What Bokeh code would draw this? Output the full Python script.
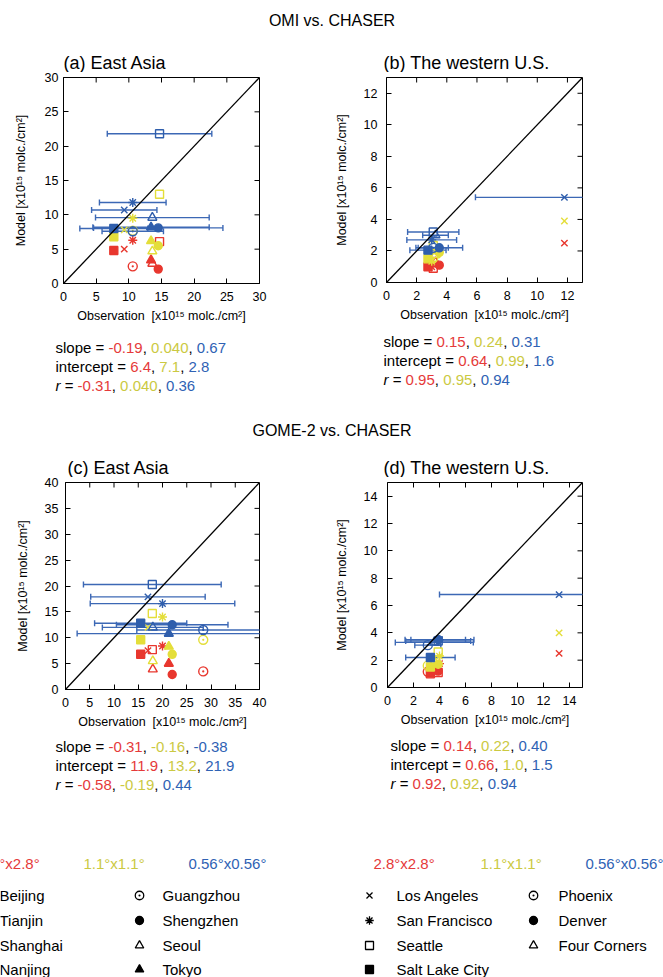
import numpy as np
from bokeh.plotting import figure
from bokeh.models import Range1d, FixedTicker, Slope
from bokeh.layouts import column, row
from bokeh.core.properties import value
from bokeh.embed import file_html
from bokeh.resources import INLINE

# ---------------- data ----------------
ea_cities = ["Beijing", "Tianjin", "Shanghai", "Nanjing",
             "Guangzhou", "Shengzhen", "Seoul", "Tokyo"]
us_cities = ["Los Angeles", "San Francisco", "Seattle", "Salt Lake City",
             "Phoenix", "Denver", "Four Corners"]
resolutions = ["2.8°x2.8°", "1.1°x1.1°", "0.56°x0.56°"]

# (a) OMI vs CHASER, East Asia
a_obs = [9.3, 10.6, 14.7, 7.7, 10.6, 14.5, 13.6, 13.4]
a_sd = [5.0, 5.1, 8.0, 5.2, 4.7, 9.9, 8.7, 8.9]
a_red = [5.0, 6.3, 6.1, 4.8, 2.5, 2.1, 2.9, 3.4]
a_yel = [7.8, 9.5, 13.0, 6.8, 7.7, 5.5, 4.7, 6.2]
a_blu = [10.7, 11.8, 21.8, 8.0, 7.6, 8.1, 9.6, 8.2]
a_slope = ["-0.19", "0.040", "0.67"]
a_intercept = ["6.4", "7.1", "2.8"]
a_r = ["-0.31", "0.040", "0.36"]

# (b) OMI vs CHASER, western U.S.
b_obs = [11.8, 3.0, 3.1, 2.75, 3.1, 3.5, 3.25]
b_sd = [5.9, 1.65, 1.7, 1.2, 1.0, 1.55, 0.85]
b_red = [2.5, 1.0, 0.9, 1.0, 1.3, 1.1, 1.3]
b_yel = [3.9, 1.35, 2.35, 1.5, 1.55, 1.9, 1.75]
b_blu = [5.4, 2.7, 3.2, 2.05, 2.2, 2.2, 3.0]
b_slope = ["0.15", "0.24", "0.31"]
b_intercept = ["0.64", "0.99", "1.6"]
b_r = ["0.95", "0.95", "0.94"]

# (c) GOME-2 vs CHASER, East Asia
c_obs = [17.0, 20.0, 17.9, 15.5, 28.4, 22.0, 18.0, 21.3]
c_sd = [11.8, 14.9, 14.2, 9.5, 13.7, 11.5, 10.4, 18.9]
c_red = [7.5, 8.4, 7.7, 6.8, 3.5, 2.9, 3.9, 5.0]
c_yel = [12.0, 14.0, 14.7, 9.6, 9.6, 6.8, 5.5, 8.3]
c_blu = [17.9, 16.6, 20.3, 12.8, 11.5, 12.5, 12.0, 10.8]
c_slope = ["-0.31", "-0.16", "-0.38"]
c_intercept = ["11.9", "13.2", "21.9"]
c_r = ["-0.58", "-0.19", "0.44"]

# (d) GOME-2 vs CHASER, western U.S.
d_obs = [13.2, 4.0, 3.9, 3.3, 3.1, 3.9, 3.6]
d_sd = [9.2, 2.65, 2.5, 1.9, 1.0, 2.1, 3.0]
d_red = [2.5, 1.75, 1.1, 1.0, 1.15, 1.2, 1.2]
d_yel = [4.0, 2.3, 2.6, 1.5, 1.6, 1.7, 1.9]
d_blu = [6.8, 3.5, 3.4, 2.2, 3.1, 3.5, 3.3]
d_slope = ["0.14", "0.22", "0.40"]
d_intercept = ["0.66", "1.0", "1.5"]
d_r = ["0.92", "0.92", "0.94"]

# ---------------- styles ----------------
FONT = "Liberation Sans"
MK_COL = ["#E8372E", "#E4DE3A", "#2F5EAC"]
TX_COL = ["#E53A3A", "#CBC942", "#2F62B4"]
ERR_COL = "#3C68B5"
ea_style = [("x", False), ("asterisk", False), ("square", False), ("square", True),
            ("circle_dot", False), ("circle", True), ("triangle", False), ("triangle", True)]
us_style = ea_style[:7]

AW = {' ': 278, ',': 278, '-': 333, '.': 278, '/': 278, '=': 584, '[': 278, ']': 278,
      '°': 400, 'r': 333, 's': 500, 'l': 222, 'o': 556, 'p': 556, 'e': 556, 'i': 222,
      'n': 556, 't': 278, 'c': 500, 'x': 500}


def tw(s, size):
    return sum(AW.get(ch, 556) for ch in s) * size / 1000.0


def strip(h):
    t = figure(width=663, height=h, x_range=Range1d(0, 663), y_range=Range1d(h, 0),
               x_axis_type=None, y_axis_type=None, min_border=0,
               outline_line_color=None, output_backend="svg", toolbar_location=None)
    return t


def put(t, x, y, text, color="black", size=15, italic=False, align="left"):
    t.text(x=[x], y=[y], text=[text], text_font=value(FONT),
           text_font_size=value(f"{size}px"), text_align=align, text_baseline="middle",
           text_color=color, text_font_style="italic" if italic else "normal")


def stats_block(t, px, py, stats):
    size = 15
    lines = [("slope", stats[0], False), ("intercept", stats[1], False),
             ("r", stats[2], True)]
    for j, (name, vals, ital) in enumerate(lines):
        y = py + 19 * j
        x = px
        put(t, x, y, name, italic=ital)
        x += tw(name + " ", size)
        put(t, x, y, "=")
        x += tw("= ", size)
        for i, v in enumerate(vals):
            put(t, x, y, v, color=TX_COL[i])
            x += tw(v, size)
            if i < len(vals) - 1:
                put(t, x, y, ",")
                x += tw(", ", size)


def make_panel(box, frame, lim, ticks, style, obs, sd, models, ytick_sd, ylab_sd):
    ox, oy, W, H = box
    FL, FT, FW, FH = frame
    p = figure(frame_width=FW, frame_height=FH,
               min_border_left=FL - ox, min_border_top=FT - oy,
               min_border_right=ox + W - FL - FW, min_border_bottom=oy + H - FT - FH,
               x_range=Range1d(0, lim), y_range=Range1d(0, lim),
               output_backend="svg", toolbar_location=None)
    p.grid.visible = False
    p.outline_line_color = "black"
    p.outline_line_width = 1
    for ax in p.xaxis + p.yaxis:
        ax.ticker = FixedTicker(ticks=ticks)
        ax.major_tick_in = 5
        ax.major_tick_out = 0
        ax.minor_tick_line_color = None
        ax.major_label_text_font = FONT
        ax.major_label_text_font_size = "12.5px"
        ax.major_label_text_color = "black"
        ax.axis_line_color = "black"
        ax.major_tick_line_color = "black"
        ax.axis_label_text_font = FONT
        ax.axis_label_text_font_size = "12.5px"
        ax.axis_label_text_font_style = "normal"
        ax.axis_label_text_color = "black"
    p.xaxis.major_label_standoff = 8
    p.xaxis.axis_label = "Observation\u00a0\u00a0[x10¹⁵ molc./cm²]"
    p.xaxis.axis_label_standoff = 5
    p.yaxis.major_label_standoff = ytick_sd
    p.yaxis.axis_label = "Model [x10¹⁵ molc./cm²]"
    p.yaxis.axis_label_standoff = ylab_sd

    # mirrored inward ticks on the top and right edges (outer half clipped by frame)
    inner = [v for v in ticks if 0 < v < lim]
    p.scatter(x=inner, y=[lim] * len(inner), marker="dash", angle=np.pi / 2, size=10,
              line_color="black", line_width=1)
    p.scatter(x=[lim] * len(inner), y=inner, marker="dash", size=10,
              line_color="black", line_width=1)

    p.add_layout(Slope(gradient=1, y_intercept=0, line_color="black", line_width=1.3))

    # observation spread as error bars at the 0.56° model values
    blu = models[2]
    lo = [o - s for o, s in zip(obs, sd)]
    hi = [o + s for o, s in zip(obs, sd)]
    p.segment(x0=lo, y0=blu, x1=hi, y1=blu, line_color=ERR_COL, line_width=1.4)
    p.scatter(x=lo + hi, y=blu + blu, marker="dash", angle=np.pi / 2, size=6,
              line_color=ERR_COL, line_width=1.4)

    for k, vals in enumerate(models):
        col = MK_COL[k]
        for i, (mk, filled) in enumerate(style):
            sz = 8 if mk in ("square", "circle") else 9
            p.scatter(x=[obs[i]], y=[vals[i]], marker=mk, size=sz, line_color=col,
                      line_width=1.4, fill_color=col if filled else None)
    return p


# ---------------- page ----------------
t1 = strip(40)
put(t1, 331.5, 20, "OMI vs. CHASER", size=16, align="center")

h1 = strip(32)
put(h1, 63, 22, "(a) East Asia", size=18)
put(h1, 383, 22, "(b) The western U.S.", size=18)

pa = make_panel((0, 72, 331, 258), (63, 77, 196, 206), 30, list(range(0, 31, 5)),
                ea_style, a_obs, a_sd, [a_red, a_yel, a_blu], 5, 14)
pb = make_panel((331, 72, 332, 258), (382, 76, 196, 205), 13, list(range(0, 13, 2)),
                us_style, b_obs, b_sd, [b_red, b_yel, b_blu], 9, 12)

s1 = strip(80)
stats_block(s1, 55, 17, [a_slope, a_intercept, a_r])
stats_block(s1, 383, 11, [b_slope, b_intercept, b_r])

t2 = strip(40)
put(t2, 331.5, 20, "GOME-2 vs. CHASER", size=16, align="center")

h2 = strip(27)
put(h2, 67, 17, "(c) East Asia", size=18)
put(h2, 383, 17, "(d) The western U.S.", size=18)

pc = make_panel((0, 477, 331, 253), (65, 482, 194, 207), 40, list(range(0, 41, 5)),
                ea_style, c_obs, c_sd, [c_red, c_yel, c_blu], 7, 12)
pd = make_panel((331, 477, 332, 253), (383, 482, 195, 205), 15, list(range(0, 15, 2)),
                us_style, d_obs, d_sd, [d_red, d_yel, d_blu], 10, 12)

s2 = strip(80)
stats_block(s2, 55, 15, [c_slope, c_intercept, c_r])
stats_block(s2, 390, 14, [d_slope, d_intercept, d_r])

# ---------------- legend ----------------
leg = strip(167)
for k, res in enumerate(resolutions):
    put(leg, [-22, 83, 188][k], 52, res, color=TX_COL[k])
    put(leg, [373, 480, 585][k], 52, res, color=TX_COL[k])

rows_y = [84, 109, 134, 158]


def legend_block(cities, style, mx1, tx1, mx2, tx2):
    for i, name in enumerate(cities):
        colm = i // 4
        y = rows_y[i % 4]
        mk, filled = style[i]
        mx = mx1 if colm == 0 else mx2
        tx = tx1 if colm == 0 else tx2
        sz = 8 if mk in ("square", "circle") else 8.5
        leg.scatter(x=[mx], y=[y], marker=mk, size=sz, line_color="black", line_width=1.3,
                    fill_color="black" if filled else None)
        put(leg, tx, y, name)


legend_block(ea_cities, ea_style, -27, -1, 139, 162)
legend_block(us_cities, us_style, 369, 396, 533, 558)

layout = column(t1, h1, row(pa, pb), s1, t2, h2, row(pc, pd), s2, leg)

open("out.html", "w").write(file_html(layout, INLINE))
